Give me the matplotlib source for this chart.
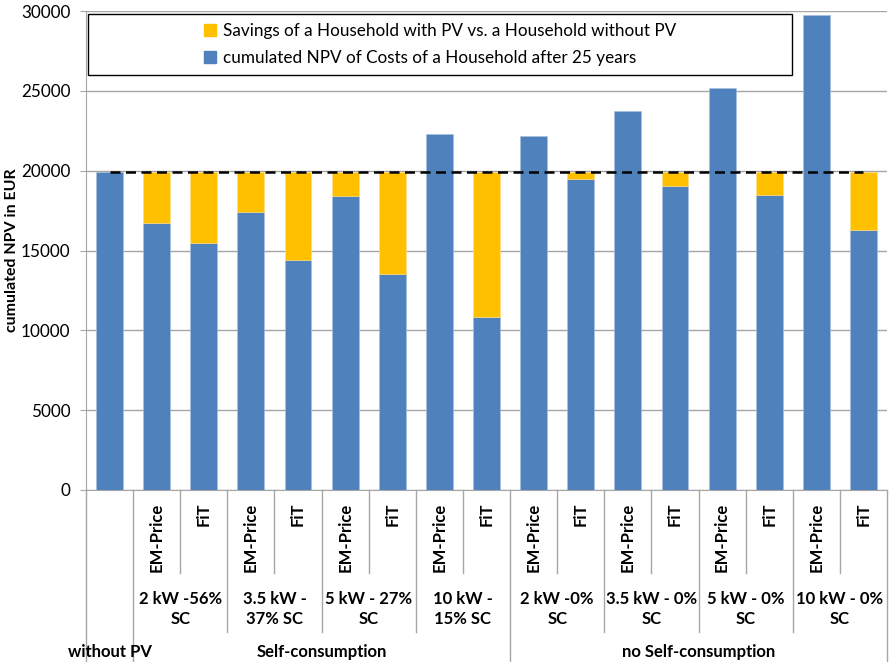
import matplotlib.pyplot as plt
from matplotlib.patches import Rectangle, Patch
from matplotlib.transforms import blended_transform_factory

plt.rcParams['font.family'] = ['Lato', 'DejaVu Sans']

# cost of each household variant (EUR) and savings against the household without PV
costs = [19900, 16700, 15500, 17400, 14400, 18400, 13550, 22300, 10850,
         22200, 19450, 23750, 19050, 25200, 18450, 29750, 16300]
savings = [0, 3200, 4400, 2500, 5500, 1500, 6350, 0, 9050,
           0, 450, 0, 850, 0, 1450, 0, 3600]
reference_cost = 19900

tariffs = [''] + ['EM-Price', 'FiT'] * 8
systems = ['2 kW -56%\nSC', '3.5 kW -\n37% SC', '5 kW - 27%\nSC', '10 kW -\n15% SC',
           '2 kW -0%\nSC', '3.5 kW - 0%\nSC', '5 kW - 0%\nSC', '10 kW - 0%\nSC']
groups = ['without PV', 'Self-consumption', 'no Self-consumption']
group_spans = [(0, 0), (1, 8), (9, 16)]

blue = '#4F81BD'
yellow = '#FFC000'
grid_gray = '#A6A6A6'

fig = plt.figure(figsize=(8.89, 6.62), dpi=100)
ax = fig.add_axes([86 / 889, 1 - 490 / 662, 801 / 889, 479 / 662])

x = list(range(len(costs)))
ax.bar(x, costs, width=0.57, color=blue, edgecolor='#A9C0DE', linewidth=0.4, zorder=3)
# only draw the savings segments that exist
sx = [i for i in x if savings[i] > 0]
ax.bar(sx, [savings[i] for i in sx], width=0.57, bottom=[costs[i] for i in sx],
       color=yellow, edgecolor='#FFE08A', linewidth=0.4, zorder=3)
ax.plot([0, 16], [reference_cost, reference_cost], color='black', lw=1.8,
        dashes=(4, 2.2), zorder=4)

ax.set_xlim(-0.5, 16.5)
ax.set_ylim(0, 30000)
ax.set_yticks(range(0, 30001, 5000))
ax.yaxis.grid(True, color=grid_gray, lw=1.0, zorder=0)
ax.set_axisbelow(True)
ax.tick_params(axis='y', length=4.3, color=grid_gray, labelsize=12.3, pad=7)
ax.tick_params(axis='x', length=0, labelbottom=False)
for side in ['top', 'right']:
    ax.spines[side].set_visible(False)
ax.spines['left'].set_color(grid_gray)
ax.spines['bottom'].set_color(grid_gray)
ax.set_ylabel('cumulated NPV in EUR', fontsize=11.5, fontweight='bold', va='center')
ax.yaxis.set_label_coords(-0.092, 0.5)

# multi-level category axis
trans = blended_transform_factory(ax.transData, ax.transAxes)
lvl1 = -0.173
lvl2 = -0.296
lvl3 = -0.36
line_kw = dict(color=grid_gray, lw=1.0, transform=trans, clip_on=False)
for i in range(len(costs) + 1):
    edge = i - 0.5
    if i in (0, 1, 9, 17):
        ax.plot([edge, edge], [0, lvl3], **line_kw)
    elif i % 2 == 1:
        ax.plot([edge, edge], [0, lvl2], **line_kw)
    else:
        ax.plot([edge, edge], [0, lvl1], **line_kw)

for i, label in enumerate(tariffs):
    ax.text(i, -0.026, label, rotation=90, ha='center', va='top', fontsize=12,
            fontweight='bold', transform=trans)

for k, label in enumerate(systems):
    ax.text(1.5 + 2 * k, -0.248, label, ha='center', va='center', fontsize=12,
            fontweight='bold', linespacing=1.35, transform=trans)

for label, (a, b) in zip(groups, group_spans):
    ax.text((a + b) / 2, -0.339, label, ha='center', va='center', fontsize=12,
            fontweight='bold', transform=trans)

# legend in a framed box
ax.add_patch(Rectangle((0.0025, 0.866), 0.879, 0.1275, transform=ax.transAxes,
                       facecolor='white', edgecolor='black', lw=1.0, zorder=5))
handles = [Patch(color=yellow), Patch(color=blue)]
labels = ['Savings of a Household with PV vs. a Household without PV',
          'cumulated NPV of Costs of a Household after 25 years']
leg = ax.legend(handles, labels, loc='center', bbox_to_anchor=(0.442, 0.93),
                frameon=False, fontsize=12.3, handlelength=0.7, handleheight=0.7,
                handletextpad=0.4, labelspacing=0.65)
leg.set_zorder(6)

fig.savefig('out.png', dpi=100)
